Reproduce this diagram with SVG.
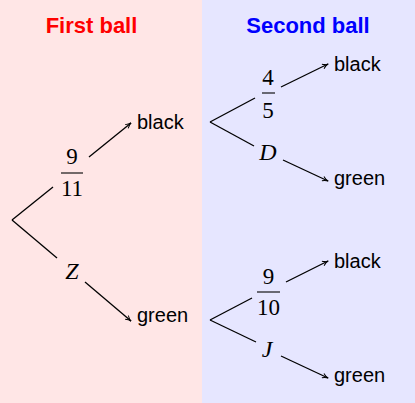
<svg xmlns="http://www.w3.org/2000/svg" width="415" height="403" viewBox="0 0 415 403">
<style>
.title{font-family:"Liberation Sans",Arial,sans-serif;font-weight:bold;font-size:22px;text-anchor:middle}
.lbl{font-family:"Liberation Sans",Arial,sans-serif;font-size:20px;fill:#000}
.num{font-family:"Liberation Serif","Times New Roman",serif;font-size:23px;text-anchor:middle;fill:#000}
.var{font-family:"Liberation Serif","Times New Roman",serif;font-style:italic;font-size:24px;text-anchor:middle;fill:#000}
.edge{stroke:#000;stroke-width:1.3;fill:none}
.bar{stroke:#000;stroke-width:1.1}
</style>
<defs>
<marker id="arr" viewBox="0 0 10 10" refX="9" refY="5" markerWidth="7" markerHeight="7" orient="auto" markerUnits="userSpaceOnUse">
<path d="M1,1.5 Q5,4.5 9.5,5 Q5,5.5 1,8.5" fill="none" stroke="#000" stroke-width="1.4"/>
</marker>
</defs>
<rect x="0" y="0" width="202" height="403" fill="#ffe6e6"/>
<rect x="202" y="0" width="213" height="403" fill="#e6e6ff"/>
<text class="title" x="91.5" y="33" fill="#ff0000">First ball</text>
<text class="title" x="308" y="33" fill="#0000ff">Second ball</text>
<g id="connectors">
<line class="edge" x1="12" y1="220" x2="53" y2="187"/>
<line class="edge" x1="12" y1="220" x2="57" y2="258"/>
<line class="edge" x1="89" y1="157" x2="131" y2="123" marker-end="url(#arr)"/>
<line class="edge" x1="85" y1="282" x2="131" y2="321" marker-end="url(#arr)"/>
<line class="edge" x1="210" y1="122" x2="255" y2="98"/>
<line class="edge" x1="210" y1="122" x2="254" y2="146"/>
<line class="edge" x1="281" y1="87" x2="328" y2="64" marker-end="url(#arr)"/>
<line class="edge" x1="283" y1="160" x2="328" y2="181" marker-end="url(#arr)"/>
<line class="edge" x1="210" y1="320" x2="252" y2="298"/>
<line class="edge" x1="210" y1="320" x2="256" y2="342"/>
<line class="edge" x1="286" y1="282" x2="328" y2="261" marker-end="url(#arr)"/>
<line class="edge" x1="281" y1="356" x2="328" y2="378" marker-end="url(#arr)"/>
</g>
<g id="p1">
<text class="num" x="72" y="164">9</text>
<line class="bar" x1="61" y1="173" x2="83" y2="173"/>
<text class="num" x="72" y="196">11</text>
</g>
<g id="z"><text class="var" x="72" y="279">Z</text></g>
<g id="n-black1"><text class="lbl" x="137" y="129">black</text></g>
<g id="n-green1"><text class="lbl" x="137" y="322">green</text></g>
<g id="p2">
<text class="num" x="268" y="85">4</text>
<line class="bar" x1="262" y1="93" x2="275" y2="93"/>
<text class="num" x="268" y="118">5</text>
</g>
<g id="d"><text class="var" x="268" y="160">D</text></g>
<g id="n-black2"><text class="lbl" x="334" y="71">black</text></g>
<g id="n-green2"><text class="lbl" x="334" y="185">green</text></g>
<g id="p3">
<text class="num" x="268.5" y="284">9</text>
<line class="bar" x1="257" y1="292" x2="280" y2="292"/>
<text class="num" x="268.5" y="315">10</text>
</g>
<g id="j"><text class="var" x="267" y="357">J</text></g>
<g id="n-black3"><text class="lbl" x="334" y="268">black</text></g>
<g id="n-green3"><text class="lbl" x="334" y="382">green</text></g>
</svg>
